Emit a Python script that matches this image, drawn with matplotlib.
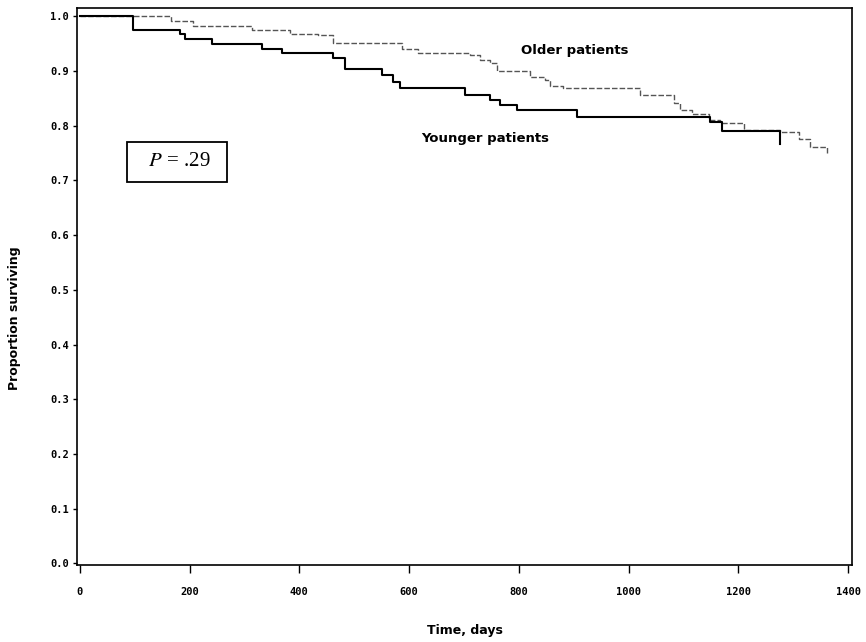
import matplotlib
matplotlib.use("Agg")
import numpy as np
import matplotlib.pyplot as plt

# Kaplan-Meier steps (days, proportion surviving)
older_days = [0, 167, 206, 313, 383, 434, 461, 587, 616, 711, 729, 747, 760, 820,
              848, 857, 880, 1020, 1082, 1094, 1116, 1146, 1167, 1210, 1276, 1310,
              1331, 1362]
older_surv = [1.0, 0.991, 0.983, 0.974, 0.968, 0.965, 0.951, 0.941, 0.933, 0.929,
              0.920, 0.914, 0.900, 0.889, 0.883, 0.872, 0.868, 0.856, 0.841, 0.828,
              0.821, 0.810, 0.804, 0.792, 0.789, 0.776, 0.761, 0.750]

younger_days = [0, 97, 182, 191, 241, 332, 368, 461, 483, 550, 570, 583, 702, 747,
                766, 797, 906, 1148, 1170, 1276]
younger_surv = [1.0, 0.974, 0.968, 0.958, 0.950, 0.941, 0.933, 0.923, 0.904, 0.892,
                0.880, 0.868, 0.856, 0.847, 0.838, 0.828, 0.815, 0.807, 0.791, 0.766]

x_ticks = [0, 200, 400, 600, 800, 1000, 1200, 1400]
y_ticks = [0.0, 0.1, 0.2, 0.3, 0.4, 0.5, 0.6, 0.7, 0.8, 0.9, 1.0]
p_text = "$P$ = .29"

plt.rcParams['mathtext.fontset'] = 'stix'

fig = plt.figure(figsize=(8.66, 6.42), dpi=100)
ax = fig.add_axes([0.0889, 0.1199, 0.8949, 0.8676])

ax.step(older_days, older_surv, where='post', color='#555555', lw=1.0,
        linestyle=(0, (4, 1.5)))
ax.step(younger_days, younger_surv, where='post', color='black', lw=1.5)

ax.set_xlim(-5, 1407)
ax.set_ylim(-0.003, 1.015)
ax.set_xticks(x_ticks)
ax.set_yticks(y_ticks)
ax.set_yticklabels(["%.1f" % v for v in y_ticks])
for lab in ax.get_xticklabels() + ax.get_yticklabels():
    lab.set_family('DejaVu Sans Mono')
    lab.set_fontweight('bold')
    lab.set_fontsize(7.5)
ax.tick_params(axis='x', direction='out', length=6, width=1, pad=10)
ax.tick_params(axis='y', direction='out', length=3, width=1, pad=3)
for s in ax.spines.values():
    s.set_linewidth(1.2)

ax.set_xlabel("Time, days", fontsize=9, fontweight='bold')
ax.set_ylabel("Proportion surviving", fontsize=9, fontweight='bold')
ax.xaxis.set_label_coords(0.5, -0.106)
ax.yaxis.set_label_coords(-0.0725, 0.443)

ax.text(902, 0.938, "Older patients", fontsize=9.5, fontweight='bold',
        ha='center', va='center')
ax.text(738, 0.776, "Younger patients", fontsize=9.5, fontweight='bold',
        ha='center', va='center')
ax.text(177, 0.734, "  " + p_text + "  ", fontsize=15, family='Liberation Serif',
        ha='center', va='center',
        bbox=dict(boxstyle='square,pad=0.5', fc='white', ec='black', lw=1.3))

fig.savefig("out.png", dpi=100)
